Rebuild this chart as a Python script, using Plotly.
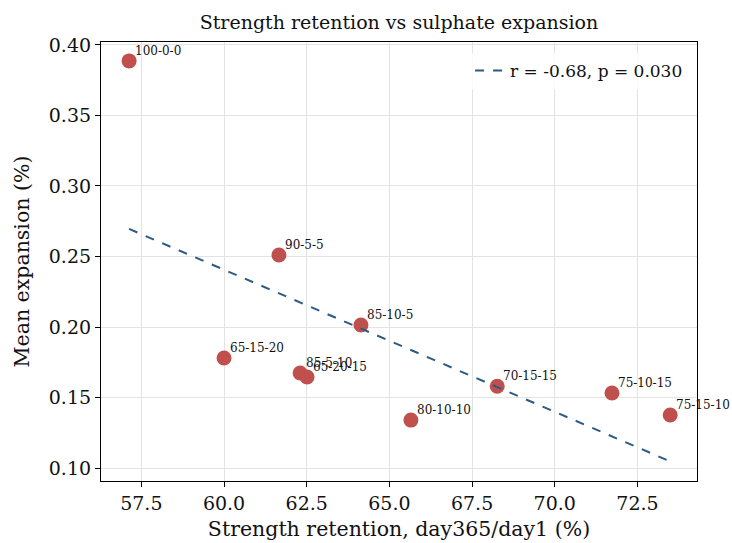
import numpy as np
import plotly.graph_objects as go

mixes = ["100-0-0", "90-5-5", "85-10-5", "65-15-20", "85-5-10", "65-20-15",
         "80-10-10", "70-15-15", "75-10-15", "75-15-10"]
retention = [57.13, 61.66, 64.14, 60.00, 62.30, 62.51, 65.65, 68.26, 71.73, 73.49]
expansion = [0.3887, 0.2511, 0.2014, 0.1780, 0.1674, 0.1645, 0.1340, 0.1580, 0.1532, 0.1376]
fit_label = "r = -0.68, p = 0.030"

FONT = "DejaVu Serif"

x = np.array(retention)
y = np.array(expansion)
slope, intercept = np.polyfit(x, y, 1)
xf = np.array([x.min(), x.max()])
yf = slope * xf + intercept

fig = go.Figure()
fig.add_trace(go.Scatter(
    x=retention, y=expansion, mode="markers",
    marker=dict(size=15, color="#c0504d", line=dict(width=0)),
    showlegend=False, hoverinfo="skip"))
fig.add_trace(go.Scatter(
    x=xf, y=yf, mode="lines", name=fit_label,
    line=dict(color="#2b5b84", width=2, dash="dash")))

for m, xv, yv in zip(mixes, retention, expansion):
    fig.add_annotation(x=xv, y=yv, text=m, showarrow=False,
                       xanchor="left", yanchor="bottom", xshift=4, yshift=1,
                       font=dict(family=FONT, size=12, color="#111"))

axis_common = dict(
    showline=True, linecolor="black", linewidth=1.2, mirror=True,
    ticks="outside", ticklen=5, tickcolor="black", tickwidth=1,
    showgrid=True, gridcolor="#e3e3e3", gridwidth=1, zeroline=False,
    tickfont=dict(family=FONT, size=19, color="#111"), automargin=False,
)

fig.update_layout(
    width=732, height=543,
    margin=dict(l=101, r=35, t=42, b=62),
    paper_bgcolor="white", plot_bgcolor="white",
    title=dict(text="Strength retention vs sulphate expansion",
               x=(101 + 697) / 2 / 732, xanchor="center", y=0.958, yanchor="middle",
               font=dict(family=FONT, size=19, color="#111")),
    xaxis=dict(range=[56.28, 74.30], tickvals=[57.5, 60, 62.5, 65, 67.5, 70, 72.5],
               ticktext=["57.5", "60.0", "62.5", "65.0", "67.5", "70.0", "72.5"],
               title=dict(text="Strength retention, day365/day1 (%)", standoff=8,
                          font=dict(family=FONT, size=20.5, color="#111")),
               **axis_common),
    yaxis=dict(range=[0.0908, 0.4021], tickvals=[0.10, 0.15, 0.20, 0.25, 0.30, 0.35, 0.40],
               ticktext=["0.10", "0.15", "0.20", "0.25", "0.30", "0.35", "0.40"],
               title=dict(text="Mean expansion (%)", standoff=13,
                          font=dict(family=FONT, size=20.5, color="#111")),
               **axis_common),
    legend=dict(x=0.985, y=0.975, xanchor="right", yanchor="top",
                bgcolor="rgba(255,255,255,0.8)", borderwidth=0,
                font=dict(family=FONT, size=17, color="#111")),
)

fig.write_html("out.html")
